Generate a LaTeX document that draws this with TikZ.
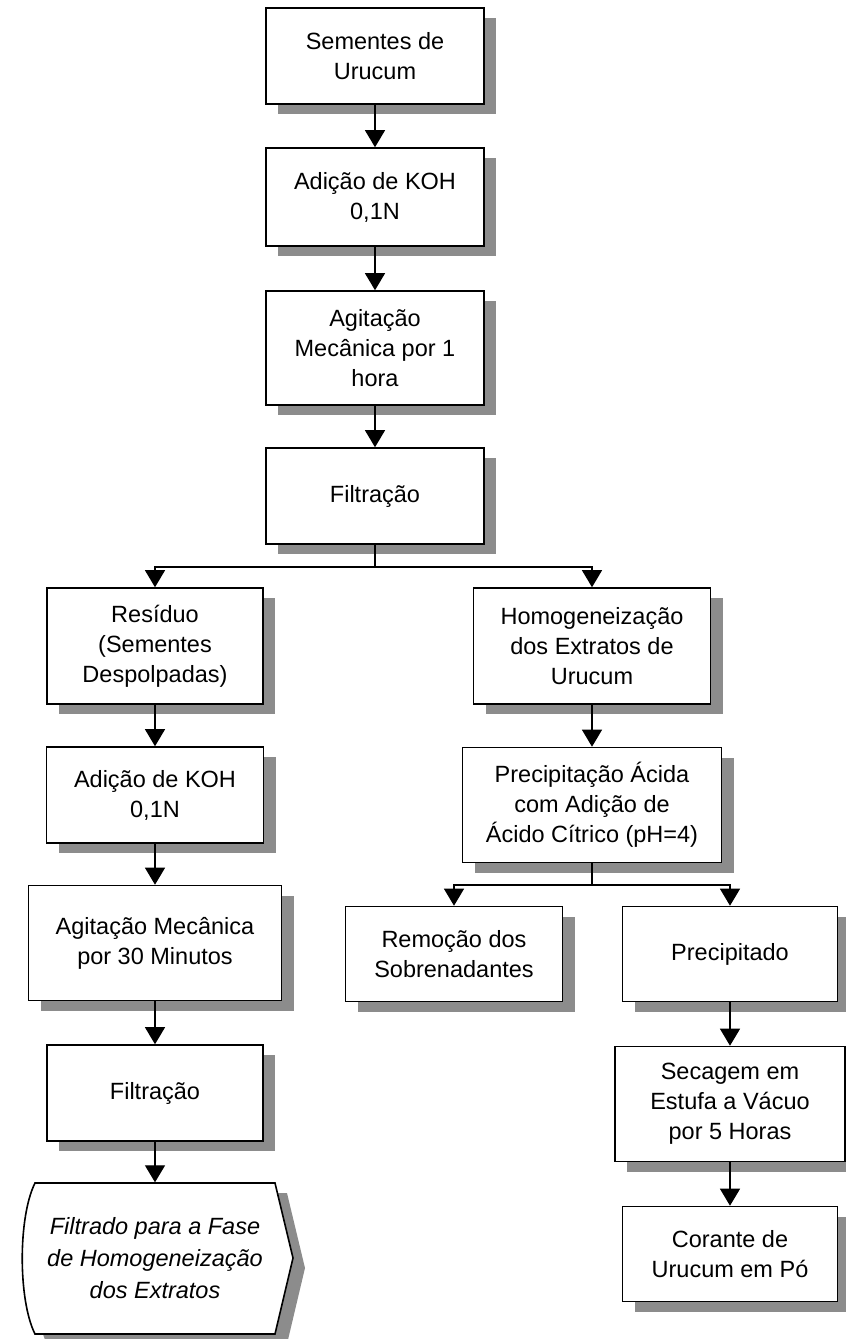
\documentclass[tikz,border=0pt]{standalone}
\usepackage{fontspec}
\setmainfont{Liberation Sans}
\usetikzlibrary{arrows.meta,shadows}

\begin{document}
\begin{tikzpicture}[x=1pt,y=-1pt,
  etapa/.style={draw,line width=1.6pt,fill=white,align=center,inner sep=0pt,
    font=\fontsize{23.5}{30}\selectfont,
    drop shadow={shadow xshift=12pt,shadow yshift=-10pt,fill=black!45,opacity=1}},
  seta/.style={line width=1.3pt,-{Triangle[width=20pt,length=17pt]}},
  linha/.style={line width=1.3pt}]
\useasboundingbox (0,0) rectangle (846,1339);

% coluna principal
\node[etapa,minimum width=218pt,minimum height=96pt] (n1) at (375,56) {Sementes de\\Urucum};
\node[etapa,minimum width=218pt,minimum height=98pt] (n2) at (375,197) {Adição de KOH\\0,1N};
\node[etapa,minimum width=218pt,minimum height=114pt] (n3) at (375,348) {Agitação\\Mecânica por 1\\hora};
\node[etapa,minimum width=218pt,minimum height=96pt] (n4) at (375,496) {Filtração};
\coordinate (s1) at (375,567);

% residuo
\node[etapa,minimum width=216pt,minimum height=116pt] (n5) at (155,646) {Resíduo\\(Sementes\\Despolpadas)};
\node[etapa,minimum width=217pt,minimum height=96pt] (n8) at (155,795) {Adição de KOH\\0,1N};
\node[etapa,minimum width=253pt,minimum height=115pt] (n9) at (155,943) {Agitação Mecânica\\por 30 Minutos};
\node[etapa,minimum width=216pt,minimum height=96pt] (n10) at (155,1093) {Filtração};

% filtrado (forma de exibicao)
\fill[black!45,shift={(12,10)}] (35,1183) -- (275,1183) -- (293,1258) -- (275,1334) -- (35,1334)
  .. controls (18,1300) and (18,1217) .. cycle;
\filldraw[line width=1.6pt,fill=white] (35,1183) -- (275,1183) -- (293,1258) -- (275,1334) -- (35,1334)
  .. controls (18,1300) and (18,1217) .. cycle;
\node[align=center,inner sep=0pt,minimum width=230pt,minimum height=151pt,
  font=\fontsize{23.5}{32}\selectfont\itshape] (n11) at (155,1258)
  {Filtrado para a Fase\\de Homogeneização\\dos Extratos};

% extratos
\node[etapa,minimum width=237pt,minimum height=116pt] (n6) at (592,646) {Homogeneização\\dos Extratos de\\Urucum};
\node[etapa,minimum width=259pt,minimum height=115pt] (n7) at (592,805) {Precipitação Ácida\\com Adição de\\Ácido Cítrico (pH=4)};
\coordinate (s2) at (592,885);
\node[etapa,minimum width=217pt,minimum height=95pt] (n12) at (454,954) {Remoção dos\\Sobrenadantes};
\node[etapa,minimum width=215pt,minimum height=95pt] (n13) at (730,954) {Precipitado};
\node[etapa,minimum width=230pt,minimum height=115pt] (n14) at (730,1104) {Secagem em\\Estufa a Vácuo\\por 5 Horas};
\node[etapa,minimum width=215pt,minimum height=95pt] (n15) at (730,1254) {Corante de\\Urucum em Pó};

\draw[seta] (n1) -- (n2);
\draw[seta] (n2) -- (n3);
\draw[seta] (n3) -- (n4);
\draw[linha] (n4) -- (s1);
\draw[seta] (s1) -| (n5.north);
\draw[seta] (s1) -| (n6.north);
\draw[seta] (n5) -- (n8);
\draw[seta] (n8) -- (n9);
\draw[seta] (n9) -- (n10);
\draw[seta] (n10) -- (n11);
\draw[seta] (n6) -- (n7);
\draw[linha] (n7) -- (s2);
\draw[seta] (s2) -| (n12.north);
\draw[seta] (s2) -| (n13.north);
\draw[seta] (n13) -- (n14);
\draw[seta] (n14) -- (n15);
\end{tikzpicture}
\end{document}
